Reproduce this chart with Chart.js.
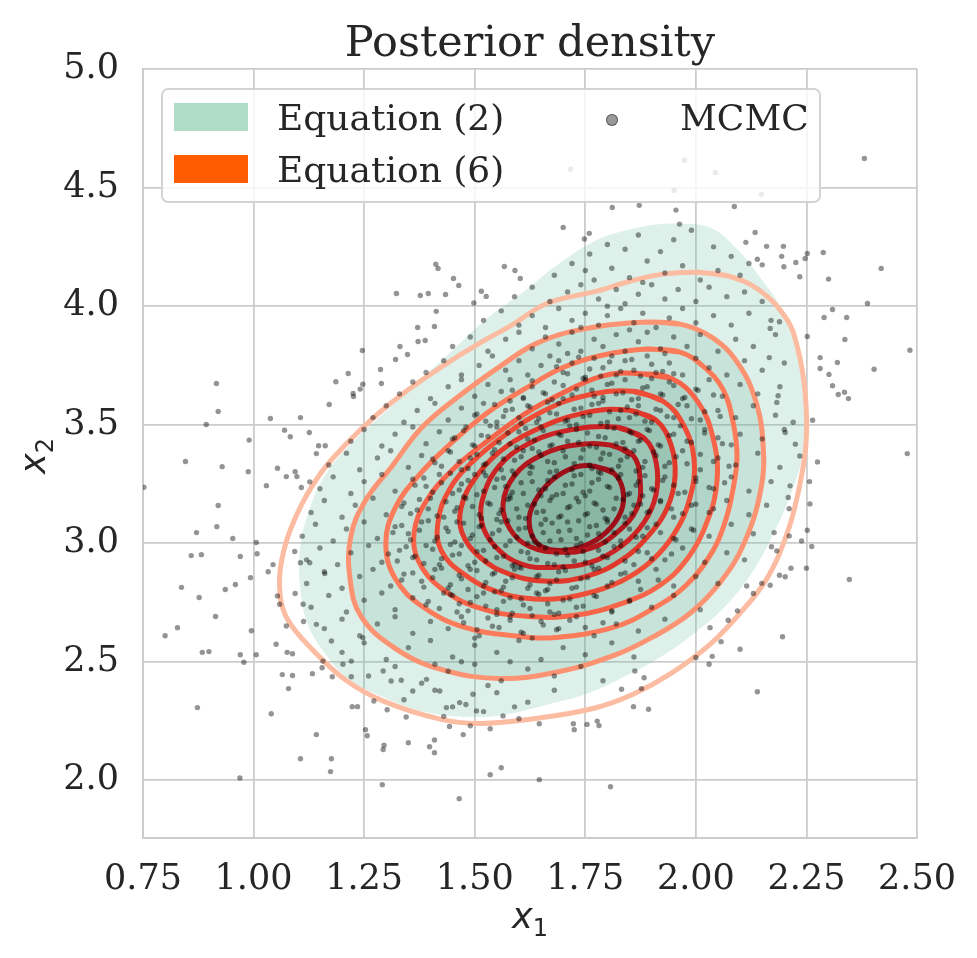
<!DOCTYPE html>
<html>
<head>
<meta charset="utf-8">
<script src="https://cdn.jsdelivr.net/npm/chart.js@4.4.1/dist/chart.umd.min.js"></script>
<style>
  html, body { margin: 0; padding: 0; background: #fff; }
  #wrap { position: relative; width: 977px; height: 958px; overflow: hidden; }
  #chart { position: absolute; left: 0; top: 0; }
  .txt { position: absolute; color: #262626; white-space: nowrap; line-height: normal; }
  .serif { font-family: 'DejaVu Serif', serif; }
  .math { font-family: 'DejaVu Sans', sans-serif; font-size: 35px; }
  .math i { font-style: italic; }
  .math sub { font-size: 24px; vertical-align: -8px; line-height: 0; }
  #legend-box { position: absolute; left: 161px; top: 88px; width: 660px; height: 115px; box-sizing: border-box;
    border: 2px solid rgba(204,204,204,0.85); border-radius: 7px; background: rgba(255,255,255,0.8); }
  .patch { position: absolute; width: 74px; height: 28px; }
</style>
</head>
<body>
<div id="wrap">
  <canvas id="chart" width="977" height="958"></canvas>
  <div class="txt serif" style="left:143px; width:774px; text-align:center; top:16px; font-size:43px;">Posterior density</div>
  <div id="legend-box"></div>
  <div class="patch" style="left:174px; top:103px; background:#aedcc6;"></div>
  <div class="patch" style="left:174px; top:155px; background:#ff5b00;"></div>
  <div class="txt serif" style="left:277px; top:96.5px; font-size:36px;">Equation (2)</div>
  <div class="txt serif" style="left:277px; top:148.5px; font-size:36px;">Equation (6)</div>
  <div style="position:absolute; left:606px; top:114px; width:10px; height:10px; border-radius:50%; background:rgba(0,0,0,0.4); border:1.5px solid rgba(0,0,0,0.45);"></div>
  <div class="txt serif" style="left:680px; top:96.5px; font-size:36px;">MCMC</div>
  <div class="txt math" style="left:143px; width:774px; text-align:center; top:895.5px;"><i>x</i><sub>1</sub></div>
  <div class="txt math" style="left:-17px; top:435.5px; width:100px; text-align:center; transform:rotate(-90deg);"><i>x</i><sub>2</sub></div>
</div>
<script>
const xTicks = [0.75, 1.00, 1.25, 1.50, 1.75, 2.00, 2.25, 2.50];
const yTicks = [2.0, 2.5, 3.0, 3.5, 4.0, 4.5, 5.0];

// Equation (2): filled KDE, outer boundary
const eq2Outer = [[1.944,4.348],[2.030,4.333],[2.091,4.245],[2.143,4.127],[2.197,3.979],[2.229,3.830],[2.242,3.682],[2.247,3.489],[2.238,3.342],[2.212,3.194],[2.177,3.046],[2.134,2.897],[2.074,2.749],[2.004,2.631],[1.926,2.527],[1.840,2.439],[1.753,2.365],[1.667,2.321],[1.563,2.276],[1.476,2.268],[1.381,2.291],[1.295,2.350],[1.217,2.424],[1.165,2.527],[1.122,2.661],[1.105,2.824],[1.105,2.971],[1.122,3.119],[1.165,3.297],[1.234,3.445],[1.295,3.549],[1.364,3.667],[1.442,3.800],[1.528,3.948],[1.615,4.067],[1.684,4.170],[1.771,4.274],[1.857,4.326]];

// Equation (6): contour levels, outer to inner
const eq6Level1 = [[2.003,4.143],[2.073,4.127],[2.143,4.068],[2.204,3.949],[2.229,3.831],[2.247,3.637],[2.249,3.418],[2.229,3.194],[2.204,3.030],[2.161,2.852],[2.100,2.705],[2.030,2.570],[1.944,2.451],[1.858,2.363],[1.770,2.304],[1.641,2.262],[1.512,2.240],[1.424,2.257],[1.295,2.333],[1.209,2.422],[1.130,2.557],[1.078,2.675],[1.060,2.781],[1.064,2.932],[1.098,3.122],[1.150,3.291],[1.207,3.414],[1.275,3.536],[1.342,3.637],[1.424,3.743],[1.507,3.840],[1.580,3.916],[1.666,4.013],[1.776,4.063],[1.851,4.105],[1.926,4.135]];
const eq6Level2 = [[1.890,3.933],[1.964,3.924],[2.039,3.865],[2.095,3.759],[2.134,3.608],[2.152,3.418],[2.147,3.228],[2.109,3.000],[2.057,2.840],[1.987,2.705],[1.901,2.603],[1.815,2.527],[1.684,2.456],[1.555,2.430],[1.424,2.468],[1.320,2.557],[1.243,2.692],[1.218,2.852],[1.220,3.030],[1.252,3.177],[1.313,3.325],[1.381,3.489],[1.467,3.624],[1.555,3.743],[1.641,3.844],[1.745,3.903]];
const eq6Level3 = [[1.890,3.819],[1.964,3.806],[2.016,3.747],[2.061,3.650],[2.084,3.511],[2.093,3.367],[2.084,3.228],[2.068,3.101],[2.039,2.970],[1.978,2.823],[1.901,2.722],[1.815,2.646],[1.684,2.603],[1.598,2.608],[1.476,2.646],[1.381,2.734],[1.320,2.852],[1.299,3.000],[1.320,3.148],[1.372,3.283],[1.442,3.414],[1.528,3.549],[1.616,3.654],[1.702,3.743],[1.788,3.793]];
const eq6Level4 = [[1.858,3.717],[1.944,3.696],[2.005,3.595],[2.039,3.443],[2.048,3.266],[2.025,3.089],[1.978,2.928],[1.919,2.823],[1.840,2.751],[1.727,2.696],[1.616,2.692],[1.512,2.726],[1.424,2.810],[1.372,2.928],[1.363,3.046],[1.390,3.177],[1.451,3.312],[1.528,3.430],[1.616,3.549],[1.702,3.637],[1.788,3.705]];
const eq6Level5 = [[1.858,3.641],[1.926,3.599],[1.971,3.502],[1.996,3.354],[1.987,3.194],[1.953,3.046],[1.901,2.928],[1.831,2.840],[1.745,2.785],[1.650,2.764],[1.555,2.793],[1.476,2.869],[1.424,2.970],[1.417,3.089],[1.442,3.224],[1.494,3.342],[1.571,3.460],[1.659,3.561],[1.754,3.624]];
const eq6Level6 = [[1.849,3.561],[1.910,3.519],[1.944,3.414],[1.953,3.283],[1.935,3.148],[1.892,3.030],[1.831,2.928],[1.754,2.861],[1.668,2.840],[1.580,2.869],[1.512,2.941],[1.471,3.046],[1.469,3.148],[1.498,3.266],[1.555,3.384],[1.632,3.473],[1.745,3.549]];
const eq6Level7 = [[1.822,3.489],[1.883,3.443],[1.910,3.342],[1.910,3.207],[1.883,3.089],[1.831,2.987],[1.763,2.920],[1.684,2.899],[1.607,2.911],[1.546,2.987],[1.516,3.089],[1.521,3.207],[1.555,3.325],[1.616,3.414],[1.702,3.473]];
const eq6Level8 = [[1.806,3.414],[1.858,3.371],[1.874,3.266],[1.867,3.148],[1.822,3.046],[1.763,2.979],[1.693,2.962],[1.623,2.987],[1.580,3.059],[1.564,3.165],[1.589,3.283],[1.650,3.371],[1.727,3.414]];
const eq6Level9 = [[1.770,3.325],[1.815,3.295],[1.835,3.224],[1.831,3.135],[1.797,3.046],[1.745,2.987],[1.684,2.970],[1.641,3.000],[1.623,3.089],[1.636,3.177],[1.675,3.266],[1.727,3.321]];
const eq6Colors = ['#fcbca2', '#fc9473', '#fb7b5b', '#f6654a', '#ee4d38', '#e0392c', '#cc2424', '#b4181d', '#9d0f19'];

// MCMC samples: sparse tails, the body, and the dense core
const mcmcTails = [[1.412,4.177],[1.417,4.159],[1.452,4.117],[1.464,4.087],[1.323,4.053],[1.377,4.045],[1.395,4.053],[1.434,4.049],[1.515,4.063],[1.526,4.041],[1.567,4.167],[1.591,4.150],[1.603,4.117],[1.498,4.013],[1.413,3.978],[1.371,3.910],[1.409,3.914],[1.372,3.851],[1.388,3.855],[1.331,3.830],[1.348,3.796],[1.321,3.775],[1.246,3.813],[1.287,3.733],[1.214,3.716],[1.186,3.681],[1.247,3.671],[1.241,3.650],[1.225,3.632],[1.226,3.619],[1.289,3.674],[1.171,3.585],[0.916,3.674],[0.920,3.556],[0.893,3.501],[1.038,3.526],[1.106,3.530],[0.990,3.435],[1.070,3.477],[1.083,3.449],[1.126,3.467],[1.147,3.411],[1.162,3.411],[1.142,3.378],[0.846,3.345],[0.929,3.323],[0.988,3.302],[1.054,3.316],[1.074,3.281],[1.094,3.302],[1.098,3.281],[1.029,3.243],[0.920,3.159],[0.752,3.236],[1.108,3.235],[1.127,3.259],
  [2.381,4.623],[1.811,4.416],[1.872,4.425],[1.955,4.405],[2.087,4.420],[1.700,4.332],[1.759,4.307],[1.748,4.283],[1.963,4.346],[2.134,4.311],[2.113,4.269],[2.160,4.252],[2.198,4.252],[2.194,4.210],[2.199,4.166],[2.226,4.184],[2.247,4.201],[2.252,4.222],[2.288,4.226],[2.235,4.124],[2.300,4.114],[2.419,4.159],[2.139,4.198],[2.150,4.174],[2.388,4.011],[2.309,3.986],[2.290,3.952],[2.341,3.952],[2.337,3.859],[2.252,3.872],[2.484,3.814],[2.281,3.783],[2.320,3.762],[2.281,3.737],[2.403,3.734],[2.301,3.712],[2.309,3.664],[2.322,3.627],[2.336,3.637],[2.345,3.610],[2.264,3.519],[2.275,3.343],[2.478,3.378],[2.257,3.260],[2.258,3.166],[2.211,3.146],
  [1.717,4.577],[1.974,4.615],[2.044,4.564],[1.951,4.488],[2.148,4.471],
  [2.189,3.934],[2.168,3.906],[2.166,3.783],[2.186,3.622],[2.183,3.594],[2.202,3.467],[2.225,3.418],[2.235,3.368],[2.213,3.242],[2.209,3.193],
  [0.871,3.045],[0.917,3.070],[0.953,3.020],[1.006,3.003],[1.008,2.956],[0.859,2.948],[0.882,2.952],[0.970,2.944],[1.044,2.910],[1.033,2.880],[0.993,2.855],[0.837,2.814],[0.877,2.771],[0.936,2.805],[0.959,2.826],[0.914,2.691],[0.828,2.644],[0.800,2.610],[0.995,2.631],[1.051,2.574],[0.884,2.540],[0.899,2.543],[0.970,2.530],[0.978,2.498],[1.006,2.530],[1.076,2.540],[1.088,2.534],[1.065,2.446],[1.088,2.442],[1.079,2.387],[1.133,2.450],[1.155,2.475],[1.178,2.437],[1.221,2.437],[0.873,2.307],[1.040,2.281],[1.223,2.311],[1.235,2.311],[1.142,2.193],[1.253,2.214],[1.257,2.188],[1.295,2.148],[1.293,2.130],[1.350,2.159],[1.398,2.142],[1.409,2.170],[1.409,2.117],[1.106,2.091],[1.176,2.091],[1.174,2.037],[0.969,2.010],[1.291,1.982],[1.465,1.923],[1.535,2.024],[1.560,2.053],[1.474,2.193],[1.535,2.218],[1.443,2.227],[1.272,2.335],[1.302,2.298],[1.345,2.267],[1.054,2.778],[1.059,2.743],[1.074,2.651],[1.093,2.965],[1.106,2.918],[1.127,2.918],[1.094,2.788],
  [1.112,2.743],[1.113,2.670],[1.142,2.658],[1.161,2.872],[1.176,2.588],[1.157,2.503],[1.202,2.490],[1.221,2.503],[1.247,2.602],[1.293,2.461],[1.311,2.419],[1.334,2.422],[1.360,2.377],[1.391,2.426],[1.421,2.377],[1.436,2.307],[1.466,2.328],[1.496,2.363],[1.504,2.293],[1.564,2.272],
  [2.252,3.055],[2.262,2.986],[2.239,3.010],[2.211,3.031],[2.177,3.045],[2.171,2.985],[2.183,2.968],[2.215,2.895],[2.250,2.895],[2.347,2.847],[2.189,2.865],[2.202,2.859],[2.115,2.820],[2.149,2.831],[2.168,2.823],[2.130,2.788],[2.196,2.606],[2.100,2.553],[2.057,2.585],[2.037,2.523],[2.030,2.490],[2.000,2.518],[2.139,2.374],[1.859,2.311],[1.893,2.300],[1.777,2.250],[1.781,2.231],[1.754,2.236],[1.723,2.239],[1.725,2.214],[1.646,2.239],[1.646,2.003],[1.807,1.973],[1.877,2.387],[1.883,2.433],[1.832,2.384],[1.862,2.461],[2.094,2.715],[2.073,2.675],[2.032,2.644]];

const mcmcBody = [[1.80,4.26],[1.87,4.30],[1.92,4.23],[1.99,4.32],[2.04,4.25],[1.76,4.22],[2.08,4.21],[1.95,4.28],[1.84,4.24],
  [1.68,4.13],[1.72,4.18],[1.77,4.11],[1.81,4.16],[1.85,4.12],[1.89,4.19],[1.93,4.14],[1.97,4.17],[2.01,4.11],[2.05,4.15],[2.10,4.13],[1.88,4.10],[1.75,4.15],[2.12,4.18],
  [1.59,4.04],[1.63,4.08],[1.67,4.02],[1.71,4.06],[1.74,4.09],[1.78,4.03],[1.82,4.07],[1.84,4.01],[1.87,4.05],[1.90,4.09],[1.93,4.03],[1.96,4.07],[2.00,4.02],[2.03,4.08],[2.07,4.04],[2.11,4.06],[2.15,4.02],[1.80,4.00],
  [1.52,3.94],[1.56,3.98],[1.60,3.92],[1.63,3.96],[1.66,3.91],[1.69,3.99],[1.72,3.94],[1.75,3.97],[1.78,3.92],[1.80,3.96],[1.83,3.99],[1.86,3.93],[1.88,3.97],[1.91,3.91],[1.94,3.95],[1.97,3.99],[2.00,3.93],[2.04,3.96],[2.08,3.92],[2.12,3.97],[2.17,3.94],[1.85,3.90],[1.74,3.91],
  [1.45,3.83],[1.49,3.87],[1.53,3.81],[1.57,3.86],[1.60,3.89],[1.63,3.82],[1.66,3.87],[1.69,3.84],[1.72,3.89],[1.74,3.81],[1.77,3.86],[1.79,3.83],[1.82,3.88],[1.84,3.81],[1.87,3.85],[1.89,3.89],[1.92,3.82],[1.95,3.87],[1.98,3.83],[2.01,3.88],[2.05,3.81],[2.09,3.86],[2.13,3.83],[2.18,3.88],[1.71,3.80],[1.93,3.80],
  [1.39,3.72],[1.43,3.77],[1.47,3.71],[1.51,3.75],[1.54,3.79],[1.57,3.73],[1.60,3.77],[1.62,3.71],[1.65,3.75],[1.67,3.79],[1.70,3.72],[1.72,3.76],[1.75,3.70],[1.77,3.78],[1.79,3.74],[1.82,3.71],[1.84,3.77],[1.86,3.73],[1.89,3.79],[1.91,3.72],[1.94,3.76],[1.97,3.71],[2.00,3.78],[2.03,3.74],[2.07,3.71],[2.11,3.77],[2.15,3.73],[2.20,3.76],[1.81,3.79],[1.69,3.77],
  [1.33,3.63],[1.36,3.68],[1.40,3.61],[1.44,3.66],[1.47,3.69],[1.50,3.62],[1.53,3.67],[1.56,3.64],[1.58,3.69],[1.61,3.61],[1.63,3.66],[1.66,3.63],[1.68,3.68],[1.70,3.61],[1.73,3.65],[1.75,3.69],[1.77,3.62],[1.80,3.67],[1.82,3.63],[1.84,3.69],[1.87,3.61],[1.89,3.66],[1.92,3.63],[1.94,3.68],[1.97,3.61],[2.00,3.65],[2.03,3.69],[2.06,3.62],[2.10,3.67],[2.14,3.63],[2.19,3.66],[1.79,3.60],[1.58,3.60],
  [1.27,3.53],[1.30,3.58],[1.34,3.51],[1.37,3.56],[1.41,3.59],[1.44,3.52],[1.47,3.57],[1.50,3.54],[1.52,3.59],[1.55,3.51],[1.57,3.56],[1.60,3.53],[1.62,3.58],[1.64,3.51],[1.67,3.55],[1.69,3.59],[1.71,3.52],[1.74,3.57],[1.76,3.54],[1.78,3.59],[1.80,3.51],[1.83,3.56],[1.85,3.53],[1.87,3.58],[1.90,3.51],[1.92,3.56],[1.95,3.53],[1.98,3.58],[2.01,3.52],[2.05,3.56],[2.09,3.53],[2.13,3.58],[2.18,3.54],[2.22,3.51],[1.73,3.50],
  [1.22,3.43],[1.25,3.48],[1.29,3.41],[1.32,3.46],[1.36,3.49],[1.39,3.42],[1.42,3.47],[1.45,3.44],[1.48,3.49],[1.50,3.41],[1.53,3.45],[1.55,3.49],[1.58,3.42],[1.60,3.47],[1.62,3.44],[1.65,3.49],[1.67,3.41],[1.69,3.46],[1.71,3.43],[1.73,3.48],[1.76,3.41],[1.78,3.45],[1.80,3.49],[1.82,3.42],[1.85,3.47],[1.87,3.43],[1.89,3.48],[1.92,3.41],[1.95,3.46],[1.98,3.43],[2.02,3.48],[2.06,3.42],[2.10,3.46],[2.15,3.44],[2.20,3.48],[1.63,3.40],[1.84,3.40],
  [1.17,3.33],[1.21,3.38],[1.24,3.31],[1.28,3.36],[1.31,3.39],[1.35,3.32],[1.38,3.37],[1.41,3.34],[1.44,3.39],[1.47,3.31],[1.49,3.36],[1.52,3.33],[1.54,3.38],[1.56,3.31],[1.59,3.35],[1.61,3.39],[1.63,3.32],[1.65,3.37],[1.68,3.34],[1.70,3.39],[1.72,3.31],[1.74,3.36],[1.76,3.33],[1.79,3.38],[1.81,3.31],[1.83,3.35],[1.86,3.39],[1.88,3.32],[1.91,3.37],[1.94,3.34],[1.97,3.39],[2.01,3.31],[2.05,3.36],[2.09,3.33],[2.14,3.38],[2.19,3.32],[1.67,3.30],[1.78,3.30],[1.52,3.30],
  [1.15,3.23],[1.18,3.28],[1.22,3.21],[1.25,3.26],[1.29,3.29],[1.32,3.22],[1.36,3.27],[1.39,3.24],[1.42,3.29],[1.45,3.21],[1.47,3.25],[1.50,3.29],[1.52,3.22],[1.55,3.27],[1.57,3.24],[1.59,3.29],[1.61,3.21],[1.63,3.26],[1.66,3.23],[1.68,3.28],[1.70,3.21],[1.72,3.25],[1.74,3.29],[1.76,3.22],[1.78,3.27],[1.80,3.24],[1.83,3.29],[1.85,3.21],[1.87,3.26],[1.90,3.23],[1.93,3.28],[1.96,3.21],[2.00,3.26],[2.04,3.23],[2.08,3.28],[2.12,3.22],[2.17,3.26],[1.65,3.20],[1.75,3.20],[1.58,3.20],[1.88,3.20],
  [1.13,3.13],[1.16,3.18],[1.20,3.11],[1.23,3.16],[1.27,3.19],[1.30,3.12],[1.34,3.17],[1.37,3.14],[1.40,3.19],[1.43,3.11],[1.46,3.15],[1.48,3.19],[1.51,3.12],[1.53,3.17],[1.56,3.14],[1.58,3.19],[1.60,3.11],[1.62,3.16],[1.64,3.13],[1.67,3.18],[1.69,3.11],[1.71,3.15],[1.73,3.19],[1.75,3.12],[1.77,3.17],[1.79,3.14],[1.82,3.19],[1.84,3.11],[1.86,3.16],[1.89,3.13],[1.92,3.18],[1.95,3.11],[1.99,3.16],[2.03,3.13],[2.07,3.18],[2.12,3.12],[2.16,3.16],[1.66,3.10],[1.80,3.10],[1.55,3.10],
  [1.11,3.03],[1.14,3.08],[1.18,3.01],[1.21,3.06],[1.25,3.09],[1.28,3.02],[1.32,3.07],[1.35,3.04],[1.38,3.09],[1.41,3.01],[1.44,3.05],[1.46,3.09],[1.49,3.02],[1.51,3.07],[1.54,3.04],[1.56,3.09],[1.58,3.01],[1.60,3.06],[1.63,3.03],[1.65,3.08],[1.67,3.01],[1.69,3.05],[1.71,3.09],[1.73,3.02],[1.76,3.07],[1.78,3.04],[1.80,3.09],[1.83,3.01],[1.85,3.06],[1.88,3.03],[1.91,3.08],[1.95,3.02],[1.99,3.06],[2.03,3.03],[2.08,3.08],[2.13,3.04],[1.62,3.00],[1.74,3.00],
  [1.12,2.93],[1.15,2.98],[1.19,2.91],[1.22,2.96],[1.26,2.99],[1.29,2.92],[1.33,2.97],[1.36,2.94],[1.39,2.99],[1.42,2.91],[1.45,2.95],[1.47,2.99],[1.50,2.92],[1.52,2.97],[1.55,2.94],[1.57,2.99],[1.59,2.91],[1.62,2.96],[1.64,2.93],[1.66,2.98],[1.68,2.91],[1.71,2.95],[1.73,2.99],[1.75,2.92],[1.78,2.97],[1.80,2.94],[1.83,2.99],[1.86,2.91],[1.89,2.96],[1.93,2.93],[1.97,2.98],[2.02,2.92],[2.07,2.96],[2.11,2.93],[1.60,2.90],[1.70,2.90],
  [1.12,2.83],[1.16,2.88],[1.20,2.81],[1.24,2.86],[1.27,2.89],[1.31,2.82],[1.34,2.87],[1.38,2.84],[1.41,2.89],[1.44,2.81],[1.47,2.85],[1.49,2.89],[1.52,2.82],[1.54,2.87],[1.57,2.84],[1.59,2.89],[1.62,2.81],[1.64,2.86],[1.67,2.83],[1.69,2.88],[1.72,2.81],[1.74,2.85],[1.77,2.89],[1.80,2.82],[1.83,2.87],[1.87,2.84],[1.91,2.89],[1.95,2.82],[2.00,2.86],[2.05,2.83],[1.56,2.80],[1.66,2.80],
  [1.13,2.73],[1.17,2.78],[1.21,2.71],[1.25,2.76],[1.29,2.79],[1.32,2.72],[1.36,2.77],[1.39,2.74],[1.43,2.79],[1.46,2.71],[1.49,2.75],[1.52,2.79],[1.55,2.72],[1.58,2.77],[1.61,2.74],[1.64,2.79],[1.67,2.71],[1.70,2.76],[1.73,2.73],[1.77,2.78],[1.81,2.71],[1.85,2.76],[1.90,2.73],[1.95,2.78],[2.01,2.72],[1.55,2.70],[1.45,2.78],[1.68,2.70],
  [1.16,2.64],[1.20,2.68],[1.24,2.61],[1.28,2.66],[1.32,2.69],[1.36,2.62],[1.40,2.67],[1.44,2.64],[1.47,2.69],[1.51,2.61],[1.54,2.65],[1.58,2.69],[1.61,2.62],[1.65,2.67],[1.69,2.64],[1.73,2.69],[1.77,2.61],[1.82,2.66],[1.87,2.63],[1.93,2.68],[1.50,2.60],[1.63,2.60],
  [1.20,2.54],[1.25,2.58],[1.30,2.51],[1.35,2.56],[1.40,2.59],[1.45,2.52],[1.50,2.57],[1.55,2.54],[1.60,2.59],[1.65,2.51],[1.70,2.56],[1.75,2.53],[1.81,2.58],[1.86,2.52],[1.47,2.50],[1.58,2.50],
  [1.26,2.44],[1.32,2.48],[1.38,2.41],[1.44,2.46],[1.50,2.49],[1.56,2.42],[1.62,2.47],[1.68,2.44],[1.74,2.48],[1.79,2.42],[1.41,2.49],[1.53,2.40],
  [1.34,2.34],[1.41,2.38],[1.48,2.32],[1.55,2.37],[1.62,2.33],[1.68,2.38],[1.45,2.31],[1.59,2.31],
  [1.43,2.27],[1.52,2.29],[1.60,2.26],[1.49,2.23]];

const mcmcCore = [[1.685,3.745],[1.71,3.715],[1.735,3.785],[1.76,3.735],[1.785,3.705],[1.805,3.765],[1.83,3.725],[1.855,3.775],[1.875,3.705],[1.90,3.755],[1.925,3.725],[1.95,3.715],
  [1.585,3.645],[1.61,3.615],[1.63,3.685],[1.655,3.635],[1.675,3.605],[1.70,3.665],[1.72,3.625],[1.745,3.695],[1.765,3.645],[1.79,3.615],[1.81,3.675],[1.835,3.635],[1.855,3.605],[1.88,3.655],[1.90,3.695],[1.925,3.625],[1.95,3.665],[1.975,3.615],[2.005,3.645],[2.04,3.625],
  [1.505,3.545],[1.525,3.515],[1.545,3.585],[1.565,3.535],[1.585,3.565],[1.605,3.505],[1.625,3.575],[1.645,3.525],[1.665,3.595],[1.685,3.545],[1.705,3.515],[1.725,3.565],[1.745,3.535],[1.765,3.585],[1.785,3.505],[1.805,3.555],[1.825,3.525],[1.845,3.575],[1.865,3.545],[1.885,3.515],[1.91,3.565],[1.935,3.535],[1.96,3.585],[1.99,3.525],[2.02,3.555],[2.055,3.535],
  [1.455,3.445],[1.475,3.475],[1.495,3.415],[1.515,3.455],[1.535,3.495],[1.555,3.425],[1.575,3.465],[1.595,3.405],[1.615,3.485],[1.635,3.435],[1.655,3.475],[1.675,3.415],[1.695,3.455],[1.715,3.495],[1.735,3.425],[1.755,3.465],[1.775,3.405],[1.795,3.445],[1.815,3.485],[1.835,3.425],[1.855,3.465],[1.875,3.435],[1.895,3.475],[1.915,3.415],[1.94,3.455],[1.965,3.495],[1.99,3.425],[2.02,3.465],[2.05,3.445],[2.08,3.415],
  [1.405,3.355],[1.425,3.325],[1.445,3.385],[1.465,3.345],[1.485,3.315],[1.505,3.375],[1.525,3.335],[1.545,3.395],[1.565,3.355],[1.585,3.305],[1.605,3.365],[1.625,3.325],[1.645,3.385],[1.665,3.345],[1.685,3.305],[1.705,3.365],[1.725,3.335],[1.745,3.395],[1.765,3.315],[1.785,3.355],[1.805,3.375],[1.825,3.325],[1.845,3.365],[1.865,3.305],[1.885,3.345],[1.905,3.385],[1.93,3.325],[1.955,3.365],[1.98,3.335],[2.01,3.375],[2.04,3.345],[2.075,3.325],
  [1.365,3.245],[1.385,3.275],[1.405,3.215],[1.425,3.255],[1.445,3.295],[1.465,3.225],[1.485,3.265],[1.505,3.205],[1.525,3.285],[1.545,3.235],[1.565,3.275],[1.585,3.215],[1.605,3.255],[1.625,3.295],[1.645,3.225],[1.665,3.265],[1.685,3.205],[1.705,3.245],[1.725,3.285],[1.745,3.215],[1.765,3.255],[1.785,3.295],[1.805,3.235],[1.825,3.275],[1.845,3.205],[1.865,3.245],[1.885,3.285],[1.905,3.225],[1.925,3.265],[1.95,3.245],[1.975,3.215],[2.00,3.275],[2.03,3.235],[2.065,3.255],
  [1.335,3.155],[1.355,3.125],[1.375,3.185],[1.395,3.145],[1.415,3.115],[1.435,3.175],[1.455,3.135],[1.475,3.195],[1.495,3.155],[1.515,3.105],[1.535,3.165],[1.555,3.125],[1.575,3.185],[1.595,3.145],[1.615,3.105],[1.635,3.165],[1.655,3.135],[1.675,3.195],[1.695,3.115],[1.715,3.155],[1.735,3.175],[1.755,3.125],[1.775,3.165],[1.795,3.105],[1.815,3.145],[1.835,3.185],[1.855,3.125],[1.875,3.165],[1.895,3.135],[1.92,3.175],[1.945,3.145],[1.97,3.125],[2.00,3.165],[2.04,3.145],
  [1.315,3.045],[1.335,3.075],[1.355,3.015],[1.375,3.055],[1.395,3.095],[1.415,3.025],[1.435,3.065],[1.455,3.005],[1.475,3.085],[1.495,3.035],[1.515,3.075],[1.535,3.015],[1.555,3.055],[1.575,3.095],[1.595,3.025],[1.615,3.065],[1.635,3.005],[1.655,3.045],[1.675,3.085],[1.695,3.015],[1.715,3.055],[1.735,3.095],[1.755,3.035],[1.775,3.075],[1.795,3.005],[1.815,3.045],[1.84,3.085],[1.865,3.025],[1.89,3.065],[1.92,3.045],[1.955,3.015],[1.995,3.055],
  [1.305,2.955],[1.325,2.925],[1.345,2.985],[1.365,2.945],[1.385,2.915],[1.405,2.975],[1.425,2.935],[1.445,2.995],[1.465,2.955],[1.485,2.905],[1.505,2.965],[1.525,2.925],[1.545,2.985],[1.565,2.945],[1.585,2.905],[1.605,2.965],[1.625,2.935],[1.645,2.995],[1.665,2.915],[1.685,2.955],[1.705,2.975],[1.725,2.925],[1.745,2.965],[1.765,2.905],[1.79,2.945],[1.815,2.985],[1.84,2.925],[1.87,2.965],[1.90,2.935],[1.945,2.955],
  [1.335,2.845],[1.36,2.875],[1.385,2.815],[1.405,2.855],[1.425,2.895],[1.445,2.825],[1.465,2.865],[1.485,2.805],[1.505,2.885],[1.525,2.835],[1.545,2.875],[1.565,2.815],[1.585,2.855],[1.605,2.895],[1.625,2.825],[1.645,2.865],[1.665,2.805],[1.685,2.845],[1.705,2.885],[1.73,2.815],[1.755,2.855],[1.78,2.895],[1.81,2.835],[1.84,2.875],[1.875,2.805],[1.915,2.845],
  [1.395,2.755],[1.42,2.725],[1.445,2.785],[1.465,2.745],[1.485,2.715],[1.505,2.775],[1.525,2.735],[1.545,2.795],[1.565,2.755],[1.585,2.705],[1.605,2.765],[1.625,2.725],[1.645,2.785],[1.665,2.745],[1.69,2.705],[1.715,2.765],[1.745,2.735],[1.775,2.775],[1.81,2.715],[1.85,2.755],
  [1.475,2.665],[1.505,2.635],[1.53,2.685],[1.555,2.645],[1.58,2.675],[1.605,2.625],[1.63,2.695],[1.655,2.655],[1.685,2.635],[1.715,2.675],[1.75,2.645],[1.79,2.665]];

// inner shading of the Equation (2) fill, darker towards the mode
const eq2Shades = ['rgba(50,135,100,0.12)', 'rgba(48,125,95,0.15)', 'rgba(45,115,88,0.16)', 'rgba(45,110,85,0.17)'];

document.addEventListener('DOMContentLoaded', function() {
  const toXY = arr => arr.map(p => ({x: p[0], y: p[1]}));
  // close the loop and overlap one segment so the spline stays smooth at the seam
  const loop = arr => toXY(arr.concat([arr[0], arr[1]]));

  const serif = "'DejaVu Serif', serif";
  const datasets = [];

  datasets.push({
    label: 'MCMC',
    data: toXY(mcmcTails.concat(mcmcBody, mcmcCore)),
    showLine: false,
    pointRadius: 2.7,
    pointBackgroundColor: 'rgba(0,0,0,0.42)',
    pointBorderWidth: 0,
    order: 0
  });

  const eq6 = [eq6Level1, eq6Level2, eq6Level3, eq6Level4, eq6Level5, eq6Level6, eq6Level7, eq6Level8, eq6Level9];
  eq6.forEach((lvl, i) => {
    datasets.push({
      label: 'Equation (6) level ' + (i + 1),
      data: loop(lvl),
      showLine: true,
      fill: false,
      tension: 0.4,
      borderColor: eq6Colors[i],
      borderWidth: 5,
      pointRadius: 0,
      order: 1
    });
  });

  datasets.push({
    label: 'Equation (2)',
    data: loop(eq2Outer),
    showLine: true,
    fill: 'shape',
    tension: 0.4,
    backgroundColor: 'rgba(110,195,165,0.23)',
    borderColor: 'rgba(110,195,165,0.0)',
    borderWidth: 1,
    pointRadius: 0,
    order: 10
  });
  [eq6Level2, eq6Level4, eq6Level6, eq6Level8].forEach((lvl, i) => {
    datasets.push({
      label: 'Equation (2) shade ' + (i + 1),
      data: loop(lvl),
      showLine: true,
      fill: 'shape',
      tension: 0.4,
      backgroundColor: eq2Shades[i],
      borderColor: 'rgba(60,150,110,0.25)',
      borderWidth: 1,
      pointRadius: 0,
      order: 9 - i
    });
  });

  const ctx = document.getElementById('chart').getContext('2d');
  new Chart(ctx, {
    type: 'scatter',
    data: { datasets: datasets },
    options: {
      responsive: false,
      animation: false,
      layout: { padding: { left: 0, right: 60, top: 69, bottom: 0 } },
      plugins: {
        legend: { display: false },
        tooltip: { enabled: false },
        title: { display: false }
      },
      scales: {
        x: {
          type: 'linear',
          min: 0.75,
          max: 2.5,
          afterBuildTicks: s => { s.ticks = xTicks.map(v => ({ value: v })); },
          afterFit: s => { s.height = 120; },
          ticks: {
            padding: 21,
            color: '#262626',
            font: { family: serif, size: 35 },
            maxRotation: 0,
            autoSkip: false,
            callback: v => v.toFixed(2)
          },
          grid: { color: '#cccccc', lineWidth: 1.8, drawTicks: false },
          border: { display: true, color: '#cccccc', width: 2 }
        },
        y: {
          type: 'linear',
          min: 1.757,
          max: 5.0,
          afterBuildTicks: s => { s.ticks = yTicks.map(v => ({ value: v })); },
          afterFit: s => { s.width = 143; },
          ticks: {
            padding: 24,
            color: '#262626',
            font: { family: serif, size: 35 },
            autoSkip: false,
            callback: v => v.toFixed(1)
          },
          grid: { color: '#cccccc', lineWidth: 1.8, drawTicks: false },
          border: { display: true, color: '#cccccc', width: 2 }
        }
      }
    }
  });
});
</script>
</body>
</html>
